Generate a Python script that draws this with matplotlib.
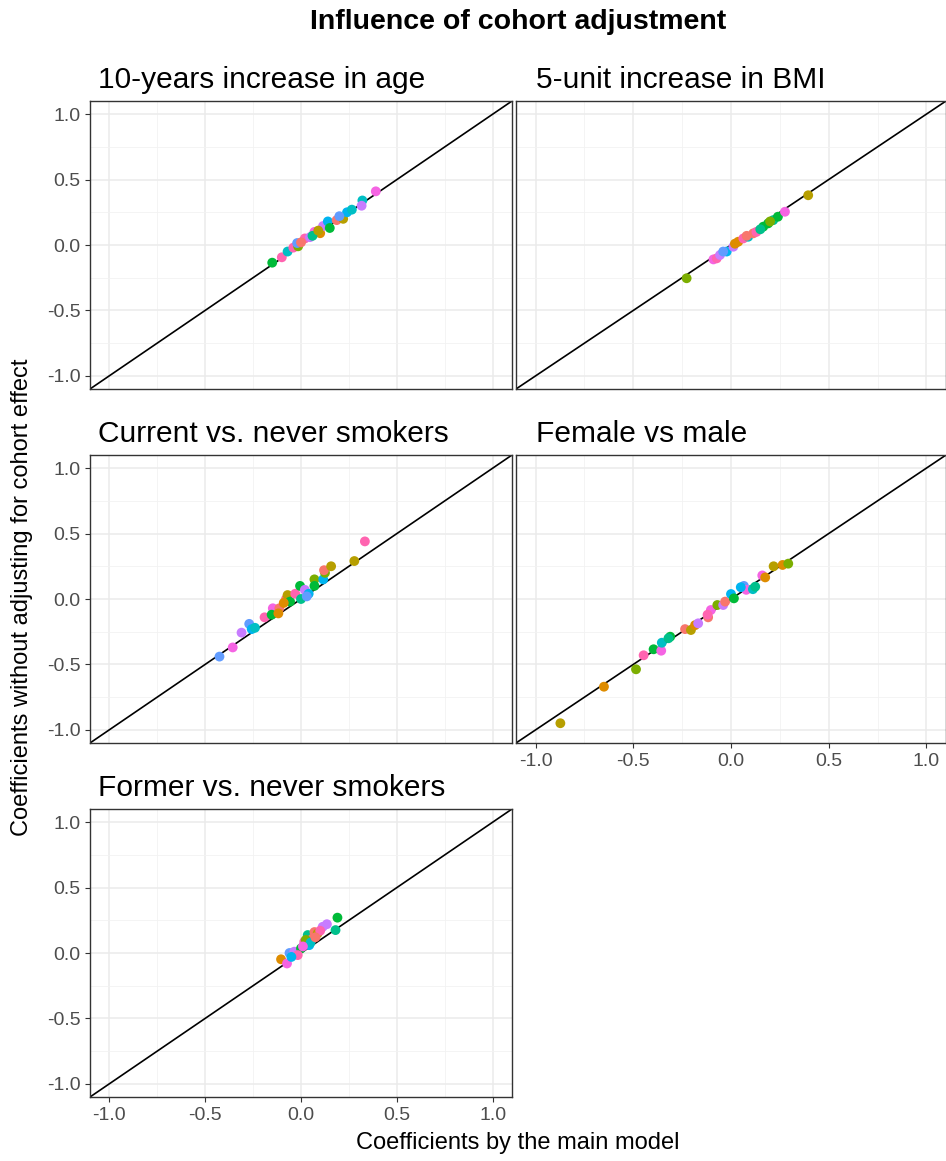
import matplotlib.pyplot as plt
import numpy as np

plt.rcParams['font.family'] = ['Liberation Sans', 'DejaVu Sans']

# ggplot hue palette, one colour per cohort
cohort_colors = ['#F8766D', '#DE8C00', '#B79F00', '#7CAE00', '#00BA38', '#00C08B',
                 '#00BFC4', '#00B4F0', '#619CFF', '#C77CFF', '#F564E3', '#FF64B0']

titles = ['10-years increase in age', '5-unit increase in BMI',
          'Current vs. never smokers', 'Female vs male', 'Former vs. never smokers']

# main model coefficient, coefficient without cohort adjustment, cohort id
age_x = [-0.15, -0.10, -0.07, -0.04, -0.015, -0.02, 0.02, 0.047, 0.07, 0.10, 0.115, 0.14,
         0.15, 0.186, 0.22, 0.24, 0.265, 0.32, 0.316, 0.39, 0.00, 0.06, 0.09, 0.20]
age_y = [-0.135, -0.094, -0.05, -0.02, -0.01, 0.015, 0.05, 0.06, 0.10, 0.09, 0.145, 0.18,
         0.13, 0.19, 0.20, 0.25, 0.27, 0.34, 0.30, 0.41, 0.02, 0.07, 0.11, 0.22]
age_c = [4, 11, 6, 11, 3, 8, 11, 9, 10, 1, 9, 7, 4, 0, 2, 7, 6, 6, 9, 10, 0, 5, 2, 8]

bmi_x = [-0.227, 0.395, -0.09, -0.073, -0.056, -0.022, 0.012, 0.037, 0.063, 0.088, 0.114,
         0.13, 0.165, 0.19, 0.216, 0.24, 0.276, -0.04, 0.02, 0.08, 0.15, 0.20]
bmi_y = [-0.254, 0.38, -0.11, -0.102, -0.076, -0.05, -0.013, 0.025, 0.05, 0.063, 0.089,
         0.10, 0.14, 0.165, 0.19, 0.216, 0.254, -0.05, 0.01, 0.07, 0.12, 0.18]
bmi_c = [3, 2, 10, 11, 9, 7, 9, 1, 11, 6, 0, 11, 4, 4, 5, 4, 10, 8, 1, 0, 5, 3]

cur_x = [-0.425, -0.356, -0.31, -0.27, -0.257, -0.19, -0.147, -0.153, -0.113, -0.118,
         -0.078, -0.07, -0.057, -0.03, -0.005, 0.0, 0.02, 0.04, 0.07, 0.07, 0.116, 0.125,
         0.12, 0.157, 0.278, 0.333, -0.24, -0.09, 0.03]
cur_y = [-0.44, -0.37, -0.257, -0.19, -0.23, -0.14, -0.071, -0.12, -0.071, -0.11,
         0.0, 0.03, -0.02, 0.04, 0.10, 0.0, 0.07, 0.04, 0.15, 0.10, 0.15, 0.20,
         0.22, 0.25, 0.29, 0.44, -0.22, -0.03, 0.02]
cur_c = [8, 10, 9, 8, 7, 11, 10, 4, 0, 1, 0, 2, 4, 11, 4, 5, 9, 7, 3, 4, 7, 3,
         0, 2, 2, 11, 6, 1, 8]

fem_x = [-0.873, -0.65, -0.486, -0.447, -0.396, -0.357, -0.354, -0.311, -0.32, -0.235,
         -0.205, -0.184, -0.168, -0.117, -0.103, -0.07, -0.04, -0.03, 0.0, 0.015, 0.066,
         0.078, 0.112, 0.124, 0.16, 0.175, 0.218, 0.264, 0.293, 0.05, -0.12]
fem_y = [-0.949, -0.67, -0.537, -0.43, -0.384, -0.395, -0.334, -0.288, -0.30, -0.23,
         -0.237, -0.20, -0.186, -0.14, -0.084, -0.046, -0.046, -0.02, 0.038, 0.005, 0.10,
         0.07, 0.075, 0.094, 0.18, 0.165, 0.25, 0.26, 0.27, 0.09, -0.12]
fem_c = [2, 1, 3, 11, 4, 10, 6, 4, 5, 0, 2, 1, 9, 0, 10, 3, 9, 0, 7, 4, 8,
         10, 6, 5, 10, 1, 2, 1, 3, 7, 11]

form_x = [-0.104, -0.073, -0.06, -0.035, 0.0, 0.017, 0.035, 0.043, 0.06, 0.07, 0.087,
          0.113, 0.135, 0.18, 0.19, -0.017, -0.05, 0.025, 0.05, 0.10, 0.01, 0.075]
form_y = [-0.048, -0.08, 0.0, 0.01, 0.035, 0.086, 0.137, 0.06, 0.11, 0.16, 0.15,
          0.20, 0.22, 0.175, 0.27, -0.016, -0.03, 0.10, 0.08, 0.17, 0.05, 0.12]
form_c = [1, 10, 8, 9, 4, 11, 5, 7, 0, 0, 2, 9, 9, 5, 4, 11, 7, 3, 6, 11, 10, 0]

panels = [(age_x, age_y, age_c), (bmi_x, bmi_y, bmi_c), (cur_x, cur_y, cur_c),
          (fem_x, fem_y, fem_c), (form_x, form_y, form_c)]

W, H = 946, 1161
fig = plt.figure(figsize=(W / 100, H / 100), dpi=100)

cols = [(90, 512), (516, 946)]
strip_x = [98, 536]
rows = [(101, 389), (455, 743), (809, 1097)]
major = [-1.0, -0.5, 0.0, 0.5, 1.0]
minor = [-0.75, -0.25, 0.25, 0.75]
labels = ['-1.0', '-0.5', '0.0', '0.5', '1.0']

for i, (xs, ys, cs) in enumerate(panels):
    r, c = divmod(i, 2)
    x0, x1 = cols[c]
    y0, y1 = rows[r]
    ax = fig.add_axes([x0 / W, 1 - y1 / H, (x1 - x0) / W, (y1 - y0) / H])
    ax.set_xlim(-1.1, 1.1)
    ax.set_ylim(-1.1, 1.1)
    ax.set_xticks(major)
    ax.set_yticks(major)
    ax.set_xticks(minor, minor=True)
    ax.set_yticks(minor, minor=True)
    ax.grid(True, which='major', color='#EBEBEB', lw=1.1)
    ax.grid(True, which='minor', color='#F2F2F2', lw=0.6)
    ax.set_axisbelow(True)
    ax.axline((0, 0), slope=1, color='black', lw=1.2, zorder=2)
    ax.scatter(xs, ys, c=[cohort_colors[k] for k in cs], s=50, lw=0, zorder=3)
    for sp in ax.spines.values():
        sp.set_color('#333333')
        sp.set_linewidth(1.0)
    ax.tick_params(which='minor', length=0)
    ax.tick_params(which='major', length=3.5, width=0.8, color='#333333',
                   labelcolor='#4D4D4D', labelsize=14)
    show_x = (i == 3 or i == 4)
    show_y = (c == 0)
    ax.set_xticklabels(labels if show_x else [])
    ax.set_yticklabels(labels if show_y else [])
    if not show_x:
        ax.tick_params(axis='x', which='major', length=0)
    if not show_y:
        ax.tick_params(axis='y', which='major', length=0)
    fig.text(strip_x[c] / W, 1 - (y0 - 13) / H, titles[i], fontsize=21.5,
             ha='left', va='baseline')

fig.text(518 / W, 1 - 22 / H, 'Influence of cohort adjustment', fontsize=20.5,
         fontweight='bold', ha='center', va='center')
fig.text(518 / W, 1 - 1143 / H, 'Coefficients by the main model', fontsize=17,
         ha='center', va='center')
fig.text(22 / W, 1 - 597 / H, 'Coefficients without adjusting for cohort effect',
         fontsize=17, rotation=90, ha='center', va='center')

fig.savefig('out.png', dpi=100, facecolor='white')
